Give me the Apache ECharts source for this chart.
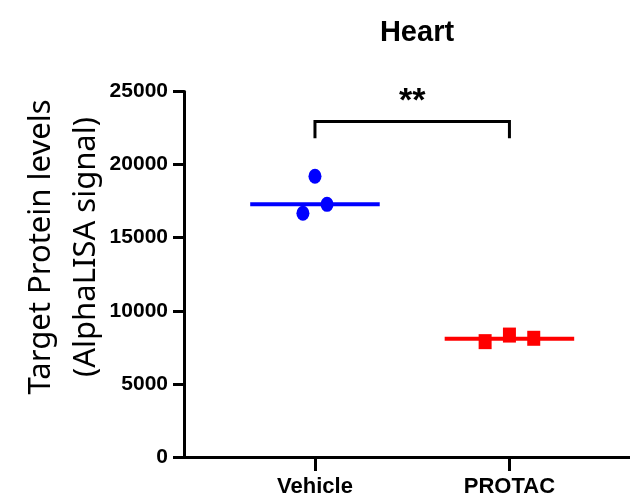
<!DOCTYPE html>
<html>
<head>
<meta charset="utf-8">
<script src="https://cdn.jsdelivr.net/npm/echarts@6/dist/echarts.min.js"></script>
<style>html,body{margin:0;padding:0;background:#fff}#c{width:630px;height:502px}</style>
</head>
<body>
<div id="c"></div>
<script>
// ---- data ----
const titleText = 'Heart';
const categories = ['Vehicle', 'PROTAC'];
const categoryX = [1, 2];
const vehicleValues = [16670, 19200, 17280];
const protacValues = [7890, 8340, 8120];
const vehicleCenterLine = 17280;
const protacCenterLine = 8090;
const bracketBottom = 21800;
const bracketTop = 22950;
const significance = '**';
const yAxisNameLines = ['Target Protein levels', '(AlphaLISA signal)'];

// ---- layout / style ----
const vehicleJitter = [-0.062, 0, 0.062];
const protacJitter = [-0.125, 0, 0.125];
const halfLine = 0.333;
const boldFont = '"Liberation Sans", Arial, sans-serif';

const chart = echarts.init(document.getElementById('c'), null, {renderer: 'canvas'});
chart.setOption({
  animation: false,
  backgroundColor: '#ffffff',
  title: {
    text: titleText, left: 412, top: 13, textAlign: 'center',
    textStyle: {fontFamily: boldFont, fontWeight: 'bold', fontSize: 29, color: '#000'}
  },
  grid: {left: 184, right: 0, top: 91.5, bottom: 45, containLabel: false},
  xAxis: {
    type: 'value', min: 0.3265, max: 2.62,
    axisLine: {show: true, onZero: false, lineStyle: {color: '#000', width: 3}},
    axisTick: {show: true, customValues: categoryX, length: 14, lineStyle: {color: '#000', width: 3}},
    axisLabel: {
      show: true, customValues: categoryX, margin: 19,
      formatter: v => categories[categoryX.indexOf(Math.round(v))] || '',
      fontFamily: boldFont, fontWeight: 'bold', fontSize: 22, color: '#000'
    },
    splitLine: {show: false}
  },
  yAxis: {
    type: 'value', min: 0, max: 25000, interval: 5000,
    axisLine: {show: true, lineStyle: {color: '#000', width: 3}},
    axisTick: {show: true, length: 11, lineStyle: {color: '#000', width: 3}},
    axisLabel: {margin: 16, formatter: v => String(v), fontFamily: boldFont, fontWeight: 'bold', fontSize: 21, color: '#000'},
    splitLine: {show: false}
  },
  graphic: [{
    type: 'text', x: 64, y: 247, rotation: Math.PI / 2,
    style: {
      text: yAxisNameLines.join('\n'), textAlign: 'center', textVerticalAlign: 'middle',
      font: '31px "Noto Sans", sans-serif', lineHeight: 45, fill: '#000'
    }
  }],
  series: [
    {
      type: 'line', data: [[categoryX[0] - halfLine, vehicleCenterLine], [categoryX[0] + halfLine, vehicleCenterLine]],
      symbol: 'none', lineStyle: {color: '#0000ff', width: 4}, z: 2
    },
    {
      type: 'line', data: [[categoryX[1] - halfLine, protacCenterLine], [categoryX[1] + halfLine, protacCenterLine]],
      symbol: 'none', lineStyle: {color: '#ff0000', width: 4}, z: 2
    },
    {
      type: 'scatter', data: vehicleValues.map((v, i) => [categoryX[0] + vehicleJitter[i], v]),
      symbol: 'circle', symbolSize: [13, 15], itemStyle: {color: '#0000ff', opacity: 1}, z: 3
    },
    {
      type: 'scatter', data: protacValues.map((v, i) => [categoryX[1] + protacJitter[i], v]),
      symbol: 'rect', symbolSize: [13, 15], itemStyle: {color: '#ff0000', opacity: 1}, z: 3
    },
    {
      type: 'line',
      data: [[categoryX[0], bracketBottom], [categoryX[0], bracketTop], [categoryX[1], bracketTop], [categoryX[1], bracketBottom]],
      symbol: 'none', lineStyle: {color: '#000', width: 3, join: 'miter', cap: 'butt'}, z: 2
    },
    {
      type: 'scatter', data: [[(categoryX[0] + categoryX[1]) / 2, bracketTop]],
      symbolSize: 0, silent: true,
      label: {
        show: true, position: 'top', distance: 3, formatter: significance,
        fontFamily: boldFont, fontWeight: 'bold', fontSize: 34, color: '#000', opacity: 1
      }
    }
  ]
});
</script>
</body>
</html>
